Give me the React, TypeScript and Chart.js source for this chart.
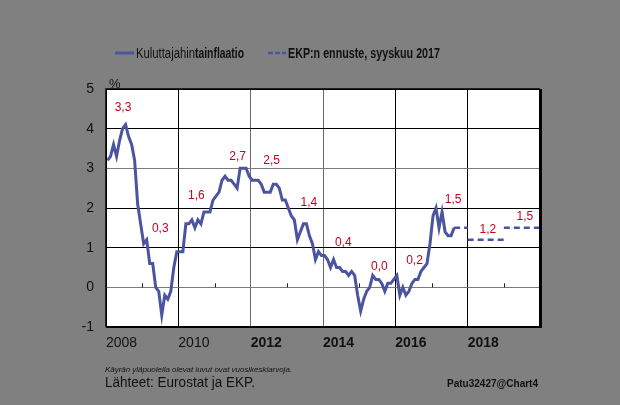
import React, { useEffect, useRef } from 'react';
import { Chart, registerables } from 'chart.js';

Chart.register(...registerables);

// Euro area HICP inflation, % y/y, monthly from Jan 2008 to Aug 2017
const startYear = 2008;
const hicp = [
  3.2, 3.3, 3.6, 3.3, 3.7, 4.0, 4.1, 3.8, 3.6, 3.2, 2.1, 1.6,
  1.1, 1.2, 0.6, 0.6, 0.0, -0.1, -0.7, -0.2, -0.3, -0.1, 0.5, 0.9,
  0.9, 0.9, 1.6, 1.6, 1.7, 1.5, 1.7, 1.6, 1.9, 1.9, 1.9, 2.2,
  2.3, 2.4, 2.7, 2.8, 2.7, 2.7, 2.6, 2.5, 3.0, 3.0, 3.0, 2.8,
  2.7, 2.7, 2.7, 2.6, 2.4, 2.4, 2.4, 2.6, 2.6, 2.5, 2.2, 2.2,
  2.0, 1.8, 1.7, 1.2, 1.4, 1.6, 1.6, 1.3, 1.1, 0.7, 0.9, 0.8,
  0.8, 0.7, 0.5, 0.7, 0.5, 0.5, 0.4, 0.4, 0.3, 0.4, 0.3, -0.2,
  -0.6, -0.3, -0.1, 0.0, 0.3, 0.2, 0.2, 0.1, -0.1, 0.1, 0.1, 0.2,
  0.3, -0.2, 0.0, -0.2, -0.1, 0.1, 0.2, 0.2, 0.4, 0.5, 0.6, 1.1,
  1.8, 2.0, 1.5, 1.9, 1.4, 1.3, 1.3, 1.5,
];

// ECB projection, September 2017 (annual averages)
const forecastYears = [2017, 2018, 2019];
const forecastValues = [1.5, 1.2, 1.5];

// Annual averages shown above the curve
const annualLabels = ['3,3', '0,3', '1,6', '2,7', '2,5', '1,4', '0,4', '0,0', '0,2', '1,5', '1,2', '1,5'];
const annualLabelX = [2008.47, 2009.5, 2010.5, 2011.64, 2012.58, 2013.61, 2014.56, 2015.56, 2016.53, 2017.6, 2018.56, 2019.58];
const annualLabelY = [4.53, 1.49, 2.32, 3.3, 3.2, 2.14, 1.13, 0.53, 0.68, 2.22, 1.46, 1.79];

const xTicks = [2008, 2010, 2012, 2014, 2016, 2018];
const yTicks = [-1, 0, 1, 2, 3, 4, 5];
const minorYears = [2009, 2011, 2013, 2015, 2017, 2019];

const seriesName1a = 'Kuluttajahin';
const seriesName1b = 'tainflaatio';
const seriesName2 = 'EKP:n ennuste, syyskuu 2017';
const noteText = 'Käyrän yläpuolella olevat luvut ovat vuosikeskiarvoja.';
const sourceText = 'Lähteet: Eurostat ja EKP.';
const idText = 'Patu32427@Chart4';

const LINE = '#4b559f';
const RED = '#c8001e';
const FONT = '"Liberation Sans", Arial, sans-serif';

function fitText(ctx: CanvasRenderingContext2D, text: string, x: number, y: number, width: number, font: string, color: string) {
  ctx.save();
  ctx.font = font;
  ctx.fillStyle = color;
  ctx.textAlign = 'left';
  ctx.textBaseline = 'alphabetic';
  const w = ctx.measureText(text).width;
  ctx.translate(x, y);
  ctx.scale(width / w, 1);
  ctx.fillText(text, 0, 0);
  ctx.restore();
}

export default function App() {
  const ref = useRef<HTMLCanvasElement | null>(null);

  useEffect(() => {
    if (!ref.current) return;
    const hicpPoints = hicp.map((v, i) => ({ x: startYear + (i + 0.5) / 12, y: v }));
    const lastX = hicpPoints[hicpPoints.length - 1].x;
    const forecastPoints: { x: number; y: number | null }[] = [];
    forecastYears.forEach((yr, i) => {
      if (i > 0) forecastPoints.push({ x: yr, y: null });
      forecastPoints.push({ x: i === 0 ? lastX : yr, y: forecastValues[i] });
      forecastPoints.push({ x: yr + 1, y: forecastValues[i] });
    });

    const decor = {
      id: 'decor',
      beforeDraw(chart: any) {
        const { ctx, chartArea: a } = chart;
        ctx.save();
        ctx.fillStyle = '#ffffff';
        ctx.fillRect(a.left, a.top, a.right - a.left, a.bottom - a.top);
        ctx.restore();
      },
      afterDraw(chart: any) {
        const { ctx, chartArea: a } = chart;
        const xs = chart.scales.x;
        const ys = chart.scales.y;
        ctx.save();
        // minor ticks on zero line
        const y0 = ys.getPixelForValue(0);
        ctx.strokeStyle = '#222';
        ctx.lineWidth = 1;
        minorYears.forEach((yr) => {
          const px = Math.round(xs.getPixelForValue(yr)) + 0.5;
          ctx.beginPath();
          ctx.moveTo(px, y0 - 4);
          ctx.lineTo(px, y0);
          ctx.stroke();
        });
        // border
        ctx.strokeStyle = '#000';
        ctx.lineWidth = 1.5;
        ctx.beginPath();
        ctx.moveTo(a.left, a.bottom);
        ctx.lineTo(a.left, a.top);
        ctx.lineTo(a.right, a.top);
        ctx.stroke();
        ctx.lineWidth = 2;
        ctx.beginPath();
        ctx.moveTo(a.left, a.bottom);
        ctx.lineTo(a.right, a.bottom);
        ctx.stroke();
        ctx.lineWidth = 3;
        ctx.beginPath();
        ctx.moveTo(a.right + 0.5, a.top);
        ctx.lineTo(a.right + 0.5, a.bottom + 1);
        ctx.stroke();

        // annual labels
        ctx.font = `12px ${FONT}`;
        ctx.fillStyle = RED;
        ctx.textAlign = 'center';
        ctx.textBaseline = 'middle';
        annualLabels.forEach((t, i) => {
          ctx.fillText(t, xs.getPixelForValue(annualLabelX[i]), ys.getPixelForValue(annualLabelY[i]));
        });

        // % unit
        ctx.font = `13px ${FONT}`;
        ctx.fillStyle = '#111';
        ctx.textAlign = 'left';
        ctx.textBaseline = 'alphabetic';
        ctx.fillText('%', 109, 88);

        // legend
        ctx.strokeStyle = LINE;
        ctx.lineWidth = 3;
        ctx.beginPath();
        ctx.moveTo(115, 53);
        ctx.lineTo(134, 53);
        ctx.stroke();
        ctx.lineWidth = 2.5;
        ctx.setLineDash([5, 2]);
        ctx.beginPath();
        ctx.moveTo(268, 53);
        ctx.lineTo(286, 53);
        ctx.stroke();
        ctx.setLineDash([]);
        fitText(ctx, seriesName1a, 136, 58, 59, `14px ${FONT}`, '#111');
        fitText(ctx, seriesName1b, 195, 58, 49, `bold 14px ${FONT}`, '#111');
        fitText(ctx, seriesName2, 288, 58, 152, `bold 14px ${FONT}`, '#111');

        // footer
        fitText(ctx, noteText, 105, 372, 187, `italic 8px ${FONT}`, '#111');
        fitText(ctx, sourceText, 105, 387, 150, `14px ${FONT}`, '#111');
        fitText(ctx, idText, 447, 387, 91, `bold 11px ${FONT}`, '#111');
        ctx.restore();
      },
    };

    const chart = new Chart(ref.current, {
      type: 'line',
      data: {
        datasets: [
          {
            label: seriesName1a + seriesName1b,
            data: hicpPoints,
            borderColor: LINE,
            borderWidth: 3,
            pointRadius: 0,
            tension: 0,
            fill: false,
          },
          {
            label: seriesName2,
            data: forecastPoints as any,
            borderColor: LINE,
            borderWidth: 2.5,
            borderDash: [6, 4],
            pointRadius: 0,
            spanGaps: false,
            fill: false,
          },
        ],
      },
      options: {
        responsive: false,
        animation: false,
        events: [],
        layout: { padding: { top: 89, right: 80, left: 0, bottom: 0 } },
        plugins: { legend: { display: false }, tooltip: { enabled: false }, title: { display: false } },
        scales: {
          x: {
            type: 'linear',
            min: 2008,
            max: 2020,
            afterBuildTicks: (s: any) => {
              s.ticks = xTicks.map((v) => ({ value: v }));
            },
            afterFit: (s: any) => {
              s.height = 78;
              s.paddingLeft = 0;
              s.paddingRight = 0;
            },
            border: { display: false },
            grid: {
              drawTicks: false,
              lineWidth: 1,
              color: (c: any) => (c.tick && (c.tick.value === 2012 || c.tick.value === 2014) ? '#6a6a6a' : '#000'),
            },
            ticks: {
              align: 'start',
              padding: 8,
              autoSkip: false,
              maxRotation: 0,
              color: '#111',
              font: (c: any) => ({ family: FONT, size: 14, weight: c.tick && c.tick.value >= 2012 ? 'bold' : 'normal' }),
              callback: (v: any) => String(v),
            },
          },
          y: {
            min: -1,
            max: 5,
            afterBuildTicks: (s: any) => {
              s.ticks = yTicks.map((v) => ({ value: v }));
            },
            afterFit: (s: any) => {
              s.width = 106;
              s.paddingTop = 0;
              s.paddingBottom = 0;
            },
            border: { display: false },
            grid: {
              drawTicks: false,
              lineWidth: 1,
              color: (c: any) => (c.tick && (c.tick.value === 3 || c.tick.value === 0) ? '#7a7a7a' : '#000'),
            },
            ticks: {
              padding: 12,
              color: '#111',
              font: { family: FONT, size: 14 },
              callback: (v: any) => String(v),
            },
          },
        },
      },
      plugins: [decor],
    } as any);
    return () => chart.destroy();
  }, []);

  return (
    <div style={{ position: 'absolute', left: 0, top: 0, width: 620, height: 405, background: '#808080' }}>
      <canvas ref={ref} width={620} height={405} style={{ display: 'block' }} />
    </div>
  );
}
